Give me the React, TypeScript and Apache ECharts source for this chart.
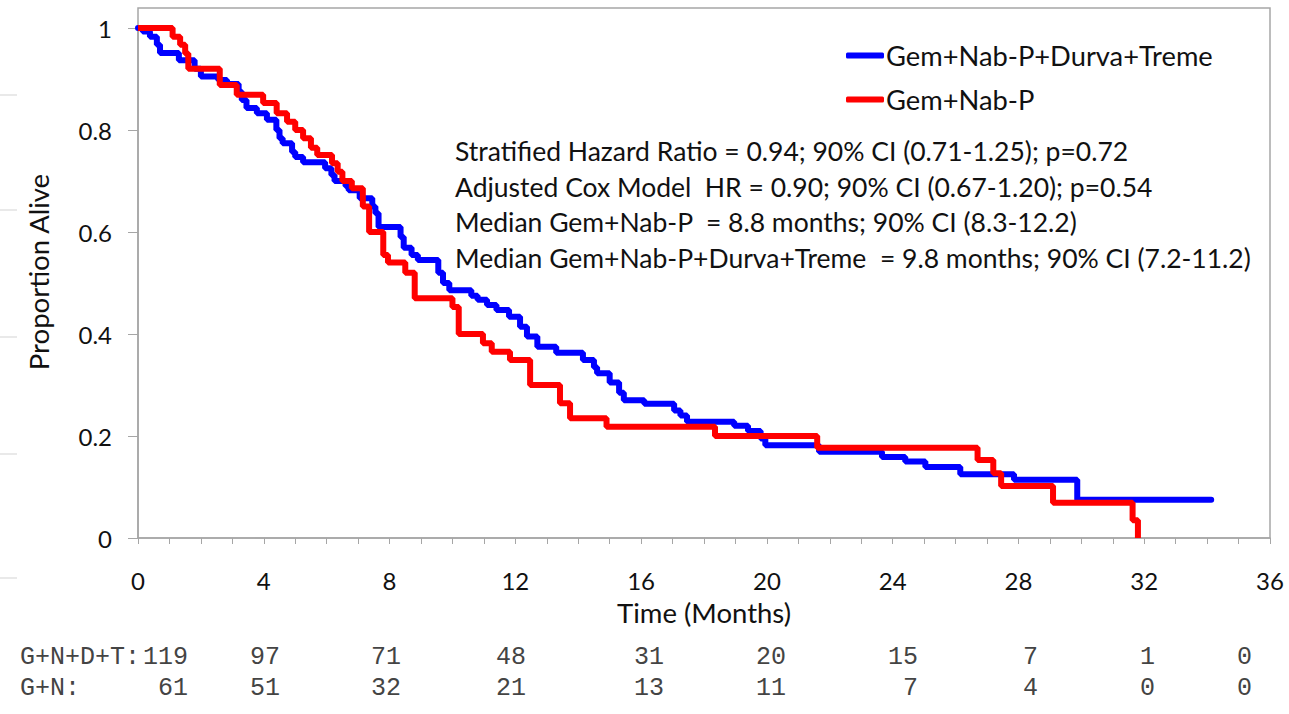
import React, { useEffect, useRef } from "react";
import * as echarts from "echarts";

// Kaplan-Meier steps: survival value holding from each time onward
const blueTimes = [0, 0.15, 0.38, 0.6, 0.7, 1.3, 1.8, 2.0, 2.55, 2.83, 3.2, 3.3, 3.45, 3.78, 4.1, 4.4, 4.5, 4.6, 4.9, 5.0, 5.25, 5.95, 6.15, 6.25, 6.6, 6.7, 7.05, 7.45, 7.55, 7.65, 8.35, 8.45, 8.7, 8.9, 9.55, 9.7, 9.9, 10.6, 10.8, 11.1, 11.4, 11.8, 12.15, 12.37, 12.7, 13.3, 14.15, 14.5, 14.6, 15.0, 15.3, 15.45, 16.1, 17.05, 17.25, 17.46, 18.96, 19.4, 19.8, 19.95, 21.66, 23.66, 24.4, 25.04, 26.15, 27.86, 29.87, 34.13];
const blueSurv = [1.0, 0.993, 0.983, 0.967, 0.951, 0.937, 0.92, 0.905, 0.898, 0.89, 0.875, 0.859, 0.843, 0.833, 0.82, 0.8, 0.784, 0.774, 0.757, 0.747, 0.737, 0.725, 0.712, 0.7, 0.69, 0.682, 0.666, 0.65, 0.637, 0.61, 0.59, 0.569, 0.555, 0.545, 0.52, 0.5, 0.486, 0.475, 0.467, 0.457, 0.447, 0.434, 0.414, 0.395, 0.375, 0.363, 0.349, 0.335, 0.323, 0.305, 0.285, 0.27, 0.263, 0.25, 0.24, 0.228, 0.22, 0.21, 0.195, 0.182, 0.169, 0.159, 0.15, 0.139, 0.125, 0.114, 0.075, 0.075];

const redTimes = [0, 1.1, 1.34, 1.5, 1.6, 2.6, 3.14, 3.98, 4.41, 4.74, 5.0, 5.25, 5.5, 5.7, 6.17, 6.35, 6.5, 6.8, 7.15, 7.35, 7.8, 7.95, 8.5, 8.8, 10.0, 10.2, 10.97, 11.25, 11.83, 12.47, 13.42, 13.74, 14.9, 18.35, 21.6, 26.7, 27.2, 27.45, 29.1, 31.63, 31.8];
const redSurv = [1.0, 0.983, 0.967, 0.95, 0.92, 0.888, 0.869, 0.853, 0.833, 0.816, 0.8, 0.784, 0.765, 0.751, 0.735, 0.718, 0.7, 0.686, 0.65, 0.6, 0.555, 0.54, 0.52, 0.47, 0.453, 0.4, 0.382, 0.365, 0.349, 0.3, 0.264, 0.235, 0.218, 0.2, 0.177, 0.153, 0.127, 0.102, 0.069, 0.035, 0.0];

const seriesNames = ["Gem+Nab-P+Durva+Treme", "Gem+Nab-P"];

const annotations = [
  "Stratified Hazard Ratio = 0.94; 90% CI (0.71-1.25); p=0.72",
  "Adjusted Cox Model  HR = 0.90; 90% CI (0.67-1.20); p=0.54",
  "Median Gem+Nab-P  = 8.8 months; 90% CI (8.3-12.2)",
  "Median Gem+Nab-P+Durva+Treme  = 9.8 months; 90% CI (7.2-11.2)",
];

const riskRowLabels = ["G+N+D+T:", "G+N:"];
const riskBlue = ["119", "97", "71", "48", "31", "20", "15", "7", "1", "0"];
const riskRed = ["61", "51", "32", "21", "13", "11", "7", "4", "0", "0"];

// layout (pixel positions)
const riskColRight = [188, 280, 401, 526, 664, 786, 918, 1038, 1155, 1252];
const riskRowY = [657, 688];
const annotY = [151, 187, 222, 258];
const edgeMarksY = [95, 210, 337, 454, 578];

const FONT = "Lato, 'Open Sans', sans-serif";

export default function App() {
  const ref = useRef<HTMLDivElement>(null);
  useEffect(() => {
    document.body.style.margin = "0";
    const chart = echarts.init(ref.current!, null, { renderer: "svg" });
    const blueData = blueTimes.map((t, i) => [t, blueSurv[i]]);
    const redData = redTimes.map((t, i) => [t, redSurv[i]]);

    const graphics: any[] = [];
    graphics.push({
      type: "rect",
      z: 0,
      shape: { x: 138, y: 8, width: 1132, height: 530 },
      style: { fill: "none", stroke: "#a6a6a6", lineWidth: 1.5 },
    });
    edgeMarksY.forEach((y) =>
      graphics.push({
        type: "line",
        shape: { x1: 0, y1: y, x2: 17, y2: y },
        style: { stroke: "#e2e2e2", lineWidth: 1.5 },
      })
    );
    annotations.forEach((s, i) =>
      graphics.push({
        type: "text",
        x: 455,
        y: annotY[i],
        style: { text: s, font: `26.5px ${FONT}`, fill: "#111", textAlign: "left", textVerticalAlign: "middle" },
      })
    );
    graphics.push({
      type: "text",
      x: 38,
      y: 272,
      rotation: Math.PI / 2,
      style: { text: "Proportion Alive", font: `27.5px ${FONT}`, fill: "#111", textAlign: "center", textVerticalAlign: "middle" },
    });
    const mono = "25px 'Liberation Mono', 'DejaVu Sans Mono', monospace";
    riskRowLabels.forEach((lab, r) =>
      graphics.push({
        type: "text",
        x: 20,
        y: riskRowY[r],
        style: { text: lab, font: mono, fill: "#444", textAlign: "left", textVerticalAlign: "middle" },
      })
    );
    [riskBlue, riskRed].forEach((row, r) =>
      row.forEach((v, c) =>
        graphics.push({
          type: "text",
          x: riskColRight[c],
          y: riskRowY[r],
          style: { text: v, font: mono, fill: "#444", textAlign: "right", textVerticalAlign: "middle" },
        })
      )
    );

    chart.setOption({
      animation: false,
      backgroundColor: "#fff",
      grid: { left: 138, top: 28, width: 1132, height: 510, containLabel: false },
      legend: {
        orient: "vertical",
        left: 841,
        top: 37,
        itemWidth: 38,
        itemHeight: 6,
        itemGap: 17,
        icon: "roundRect",
        data: seriesNames,
        textStyle: { fontFamily: FONT, fontSize: 27.3, color: "#111", padding: [0, 0, 0, -3] },
      },
      xAxis: {
        type: "value",
        min: 0,
        max: 36,
        interval: 4,
        name: "Time (Months)",
        nameLocation: "middle",
        nameGap: 60,
        nameTextStyle: { fontFamily: FONT, fontSize: 27.5, color: "#111" },
        axisLine: { lineStyle: { color: "#a6a6a6", width: 1.5 } },
        axisTick: { show: true, inside: false, length: 6, lineStyle: { color: "#a6a6a6" } },
        minorTick: { show: true, splitNumber: 4, length: 6, lineStyle: { color: "#a6a6a6" } },
        axisLabel: { fontFamily: FONT, fontSize: 24, color: "#111", margin: 30 },
        splitLine: { show: false },
      },
      yAxis: {
        type: "value",
        min: 0,
        max: 1,
        interval: 0.2,
        axisLine: { show: true, lineStyle: { color: "#a6a6a6", width: 1.5 } },
        axisTick: { show: true, inside: false, length: 10, lineStyle: { color: "#a6a6a6" } },
        axisLabel: { fontFamily: FONT, fontSize: 24, color: "#111", margin: 26 },
        splitLine: { show: false },
      },
      series: [
        {
          name: seriesNames[0],
          type: "line",
          step: "end",
          data: blueData,
          showSymbol: false,
          symbol: "none",
          color: "#0000ff",
          lineStyle: { color: "#0000ff", width: 6, cap: "round" },
          z: 3,
        },
        {
          name: seriesNames[1],
          type: "line",
          step: "end",
          data: redData,
          showSymbol: false,
          symbol: "none",
          color: "#ff0000",
          lineStyle: { color: "#ff0000", width: 6 },
          z: 4,
        },
      ],
      graphic: graphics,
    });
    return () => chart.dispose();
  }, []);
  return <div ref={ref} style={{ width: 1289, height: 714 }} />;
}
